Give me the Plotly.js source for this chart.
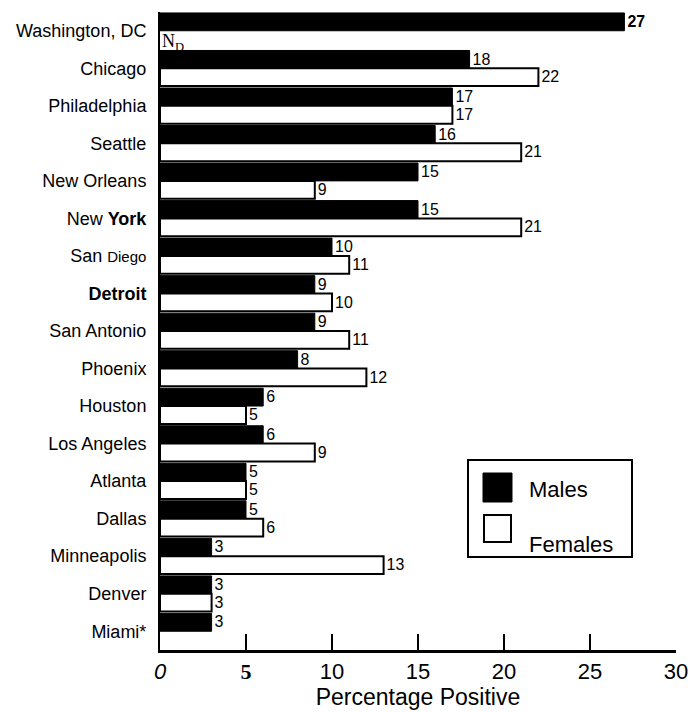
<!DOCTYPE html>
<html>
<head>
<meta charset="utf-8">
<script src="https://cdn.plot.ly/plotly-3.0.1.min.js"></script>
<style>html,body{margin:0;padding:0;background:#fff;}#chart{width:699px;height:712px;}</style>
</head>
<body>
<div id="chart"></div>
<script>
// ---- data ----
const cities = ["Washington, DC","Chicago","Philadelphia","Seattle","New Orleans","New York","San Diego","Detroit","San Antonio","Phoenix","Houston","Los Angeles","Atlanta","Dallas","Minneapolis","Denver","Miami*"];
const cityLabels = ["Washington, DC","Chicago","Philadelphia","Seattle","New Orleans","New <b>York</b>","San <span style='font-size:15px'>Diego</span>","<b>Detroit</b>","San Antonio","Phoenix","Houston","Los Angeles","Atlanta","Dallas","Minneapolis","Denver","Miami*"];
const males   = [27,18,17,16,15,15,10,9,9,8,6,6,5,5,3,3,3];
const females = [null,22,17,21,9,21,11,10,11,12,5,9,5,6,13,3,null];
const xTickVals = [0,5,10,15,20,25,30];
const xTickText = ["<i>0</i>","<span style='font-family:Liberation Serif'><b>5</b></span>","10","15","20","25","30"];
const seriesNames = ["Males","Females"];
const ndText = "N<sub>D</sub>";

// ---- layout geometry ----
const W = 699, H = 712;
const L = 160, R = 23, T = 12, B = 62;
const pw = W - L - R, ph = H - T - B;
const px = x => (x - L) / pw;
const py = y => (H - B - y) / ph;

const maleText = males.map((v,i) => v == null ? " " : (i === 0 ? "<b>" + v + "</b>" : String(v)));
const femaleText = females.map(v => v == null ? " " : String(v));

const traces = [
  {type:"bar", orientation:"h", name:seriesNames[0], y:cities, x:males,
   marker:{color:"#000", line:{color:"#000", width:1}},
   text:maleText, textposition:"outside", cliponaxis:false,
   textfont:{family:"Liberation Sans, Arial, sans-serif", size:17, color:"#000"}},
  {type:"bar", orientation:"h", name:seriesNames[1], y:cities, x:females,
   marker:{color:"#fff", line:{color:"#000", width:2}},
   text:femaleText, textposition:"outside", cliponaxis:false,
   textfont:{family:"Liberation Sans, Arial, sans-serif", size:17, color:"#000"}}
];

const shapes = [
  {type:"rect", xref:"paper", yref:"paper", x0:px(468), x1:px(632), y0:py(460), y1:py(557),
   line:{color:"#000", width:2}, fillcolor:"#fff", layer:"above"},
  {type:"rect", xref:"paper", yref:"paper", x0:px(483), x1:px(512), y0:py(473), y1:py(502),
   line:{color:"#000", width:1}, fillcolor:"#000", layer:"above"},
  {type:"rect", xref:"paper", yref:"paper", x0:px(484), x1:px(511), y0:py(515), y1:py(542),
   line:{color:"#000", width:2}, fillcolor:"#fff", layer:"above"}
];

const annotations = [
  {xref:"paper", yref:"paper", x:px(527), y:py(489), xanchor:"left", yanchor:"middle",
   text:seriesNames[0], showarrow:false, font:{family:"Liberation Sans, Arial, sans-serif", size:22, color:"#000"}},
  {xref:"paper", yref:"paper", x:px(527), y:py(544), xanchor:"left", yanchor:"middle",
   text:seriesNames[1], showarrow:false, font:{family:"Liberation Sans, Arial, sans-serif", size:22, color:"#000"}},
  {xref:"x", yref:"y", x:0, y:cities[0], yshift:-12, xanchor:"left", yanchor:"middle", xshift:0,
   text:ndText, showarrow:false, font:{family:"Liberation Serif, serif", size:18, color:"#000"}}
];

const layout = {
  width:W, height:H,
  margin:{l:L, r:R, t:T, b:B, pad:0},
  paper_bgcolor:"#fff", plot_bgcolor:"#fff",
  showlegend:false,
  barmode:"group", bargap:0.05, bargroupgap:0,
  font:{family:"Liberation Sans, Arial, sans-serif", color:"#000"},
  xaxis:{range:[0,30], tickvals:xTickVals, ticktext:xTickText,
         showgrid:false, zeroline:false, showline:true, linecolor:"#000", linewidth:3,
         ticks:"inside", ticklen:16, tickwidth:2, tickcolor:"#000",
         tickfont:{size:22, color:"#000"}, ticklabelstandoff:0,
         title:{text:"Percentage Positive", font:{size:23, color:"#000"}, standoff:2}},
  yaxis:{type:"category", range:[16.5,-0.5], tickvals:cities, ticktext:cityLabels,
         showgrid:false, zeroline:false, showline:true, linecolor:"#000", linewidth:2,
         ticks:"", tickfont:{size:18, color:"#000"}, ticklabelstandoff:8},
  shapes:shapes, annotations:annotations
};

Plotly.newPlot("chart", traces, layout, {staticPlot:true, displayModeBar:false});
</script>
</body>
</html>
